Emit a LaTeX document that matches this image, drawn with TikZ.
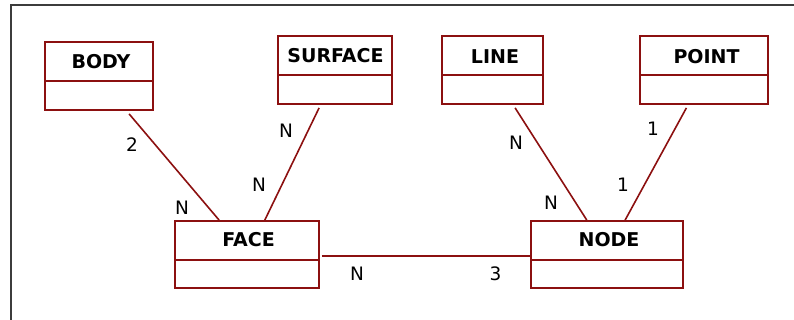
\documentclass[tikz,border=0pt]{standalone}
\usepackage{fontspec}
\setmainfont{DejaVu Sans}
\usetikzlibrary{calc}
\definecolor{boxred}{RGB}{140,16,16}
\definecolor{framegray}{RGB}{60,60,60}
\tikzset{
  entbox/.style={draw=boxred, line width=1.8pt, inner sep=0pt, fill=none},
  enttitle/.style={inner sep=0pt, font=\fontsize{19}{22}\selectfont\bfseries},
  conn/.style={draw=boxred, line width=1.6pt},
  card/.style={inner sep=0pt, font=\fontsize{18.5}{21}\selectfont},
  frameline/.style={draw=framegray, line width=2pt}
}
\newcommand{\entdivider}[1]{\draw[draw=boxred, line width=1.8pt] ($(#1.north west)!0.575!(#1.south west)$) -- ($(#1.north east)!0.575!(#1.south east)$);}
\begin{document}
\begin{tikzpicture}[x=1pt,y=-1pt]
\useasboundingbox (0,0) rectangle (794,320);
\coordinate (fr1) at (794,5);
\coordinate (fr2) at (11,5);
\coordinate (fr3) at (11,320);
\draw[frameline] (fr1) -- (fr2) -- (fr3);

% entities
\node[entbox, minimum width=108pt, minimum height=68pt] (body) at (99,76) {};
\node[entbox, minimum width=114pt, minimum height=68pt] (surface) at (335,70) {};
\node[entbox, minimum width=101pt, minimum height=68pt] (line) at (492.5,70) {};
\node[entbox, minimum width=128pt, minimum height=68pt] (point) at (704,70) {};
\node[entbox, minimum width=144pt, minimum height=67pt] (face) at (247,254.5) {};
\node[entbox, minimum width=152pt, minimum height=67pt] (nd) at (607,254.5) {};
\entdivider{body}
\entdivider{surface}
\entdivider{line}
\entdivider{point}
\entdivider{face}
\entdivider{nd}

\node[enttitle] (tbody) at (101,61.5) {BODY};
\node[enttitle] (tsurface) at (335.5,56) {SURFACE};
\node[enttitle] (tline) at (495,56.5) {LINE};
\node[enttitle] (tpoint) at (706.5,57) {POINT};
\node[enttitle] (tface) at (248.5,240) {FACE};
\node[enttitle] (tnode) at (609,240) {NODE};

% connectors
\draw[conn] ([xshift=85pt,yshift=-3pt]body.south west) -- ([xshift=45pt]face.north west);
\draw[conn] ([xshift=42pt,yshift=-3pt]surface.south west) -- ([xshift=90.7pt]face.north west);
\draw[conn] ([xshift=74pt,yshift=-3pt]line.south west) -- ([xshift=56.7pt]nd.north west);
\draw[conn] ([xshift=47.3pt,yshift=-3pt]point.south west) -- ([xshift=95pt]nd.north west);
\draw[conn, line width=1.8pt] ([xshift=2pt,yshift=-1.5pt]face.east) -- ([yshift=-1.5pt]nd.west);

% cardinalities
\node[card] (c1) at (132,145) {2};
\node[card] (c2) at (182,208) {N};
\node[card] (c3) at (286,131) {N};
\node[card] (c4) at (259,185) {N};
\node[card] (c5) at (516,143) {N};
\node[card] (c6) at (551,203) {N};
\node[card] (c7) at (653,129) {1};
\node[card] (c8) at (623,185) {1};
\node[card] (c9) at (357,274) {N};
\node[card] (c10) at (495.5,274) {3};
\end{tikzpicture}
\end{document}
